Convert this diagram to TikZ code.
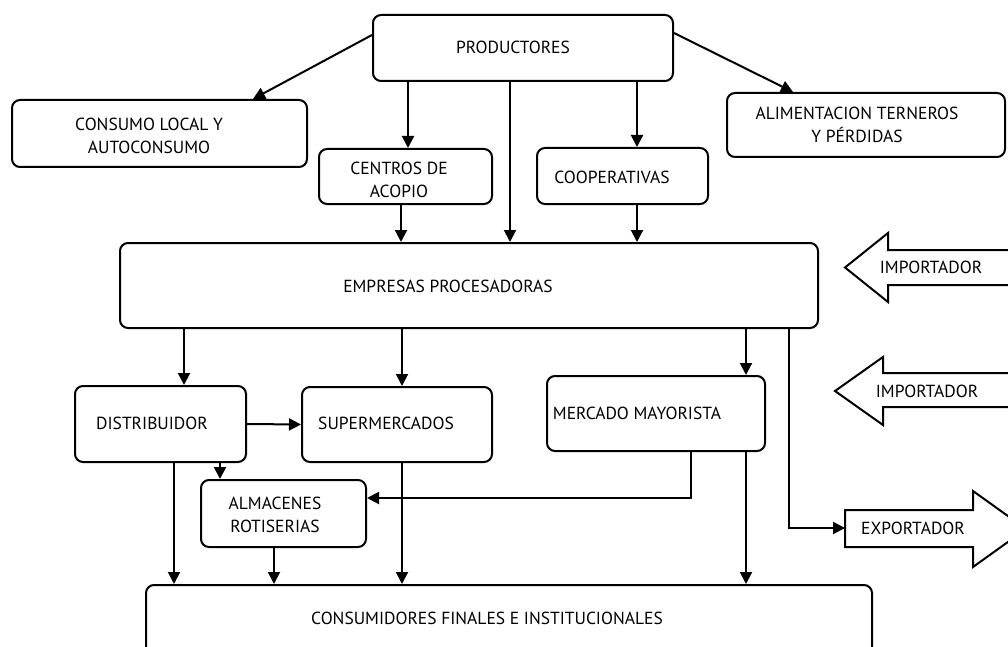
\documentclass[tikz,border=0pt]{standalone}
\usepackage{fontspec}
\setmainfont{PT Sans}
\usetikzlibrary{arrows.meta}

\begin{document}
\begin{tikzpicture}[x=1pt,y=-1pt,line width=2pt,
  >={Triangle[length=12pt,width=12pt]},
  box/.style 2 args={draw,rounded corners=8pt,minimum width=#1pt,minimum height=#2pt,inner sep=0pt},
  txt/.style={font=\fontsize{17.5}{23}\selectfont,align=center,inner sep=0pt},
  bigarrow/.style={line width=2pt,line join=miter}]
\useasboundingbox (0,0) rectangle (1008,647);
\clip (0,0) rectangle (1008,647);

\node[box={300}{66}] (prod) at (523,48) {};
\node[box={295}{67}] (consumo) at (159.5,133.5) {};
\node[box={173}{55}] (centros) at (405.5,176.5) {};
\node[box={171}{56}] (coop) at (622.5,176) {};
\node[box={278}{64}] (alim) at (866,125) {};
\node[box={698}{85}] (empresas) at (469,285.5) {};
\node[box={171}{76}] (distrib) at (160.5,424) {};
\node[box={190}{75}] (super) at (397,424.5) {};
\node[box={218}{75}] (mercado) at (656,413.5) {};
\node[box={165}{67}] (almacenes) at (283.5,513.5) {};
\node[box={726}{80}] (consum) at (509,625) {};

\node[txt] (prod-t) at (513,47) {PRODUCTORES};
\node[txt] (consumo-t) at (149,136) {CONSUMO LOCAL Y\\AUTOCONSUMO};
\node[txt] (centros-t) at (399,179.5) {CENTROS DE\\ACOPIO};
\node[txt] (coop-t) at (612,177) {COOPERATIVAS};
\node[txt] (alim-t) at (857,125) {ALIMENTACION TERNEROS\\Y PÉRDIDAS};
\node[txt] (empresas-t) at (448,286) {EMPRESAS PROCESADORAS};
\node[txt] (distrib-t) at (152,423) {DISTRIBUIDOR};
\node[txt] (super-t) at (386,423) {SUPERMERCADOS};
\node[txt] (mercado-t) at (637,413) {MERCADO MAYORISTA};
\node[txt] (almacenes-t) at (275,514.5) {ALMACENES\\ROTISERIAS};
\node[txt] (consum-t) at (487,618) {CONSUMIDORES FINALES E INSTITUCIONALES};

\draw[bigarrow] (1020,250) -- (888,250) -- (888,233) -- (845,267.5) -- (888,302) -- (888,285) -- (1020,285);
\draw[bigarrow] (1020,373) -- (883,373) -- (883,357) -- (835,391) -- (883,425) -- (883,407) -- (1020,407);
\draw[bigarrow] (845,510) -- (973,510) -- (973,491) -- (1026,529) -- (973,567) -- (973,547) -- (845,547) -- cycle;
\node[txt] (imp1) at (931,267) {IMPORTADOR};
\node[txt] (imp2) at (927,391) {IMPORTADOR};
\node[txt] (export) at (913,528) {EXPORTADOR};
\coordinate (exptail) at (845,528);

\draw[->] ([yshift=13pt]prod.west) -- ([xshift=93.5pt]consumo.north);
\draw[->] ([yshift=15pt]prod.east) -- ([xshift=-73pt]alim.north);
\draw[->] ([xshift=2.5pt]centros.north |- prod.south) -- ([xshift=2.5pt]centros.north);
\draw[->] ([xshift=-13pt]prod.south) -- ([xshift=-13pt]prod.south |- empresas.north);
\draw[->] ([xshift=14.5pt]coop.north |- prod.south) -- ([xshift=14.5pt]coop.north);
\draw[->] ([xshift=-4.5pt]centros.south) -- ([xshift=-4.5pt]centros.south |- empresas.north);
\draw[->] ([xshift=14.5pt]coop.south) -- ([xshift=14.5pt]coop.south |- empresas.north);

\draw[->] ([xshift=23.5pt]distrib.north |- empresas.south) -- ([xshift=23.5pt]distrib.north);
\draw[->] ([xshift=5pt]super.north |- empresas.south) -- ([xshift=5pt]super.north);
\draw[->] ([xshift=90pt]mercado.north |- empresas.south) -- ([xshift=90pt]mercado.north);
\draw[->] ([xshift=320pt]empresas.south) |- (exptail);

\draw[->] (distrib.east) -- (super.west);
\draw[->] ([xshift=59.5pt]distrib.south) -- ([xshift=59.5pt]distrib.south |- almacenes.north);
\draw[->] ([xshift=13.5pt]distrib.south) -- ([xshift=13.5pt]distrib.south |- consum.north);
\draw[->] ([xshift=5pt]super.south) -- ([xshift=5pt]super.south |- consum.north);
\draw[->] ([xshift=35pt]mercado.south) |- ([yshift=15.5pt]almacenes.east);
\draw[->] ([xshift=90pt]mercado.south) -- ([xshift=90pt]mercado.south |- consum.north);
\draw[->] ([xshift=-9.5pt]almacenes.south) -- ([xshift=-9.5pt]almacenes.south |- consum.north);
\end{tikzpicture}
\end{document}
